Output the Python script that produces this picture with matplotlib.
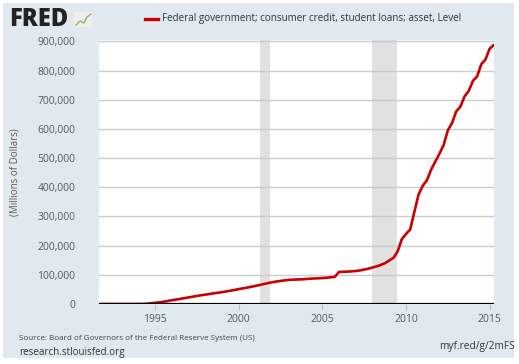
import matplotlib.pyplot as plt
from matplotlib.patches import Rectangle

plt.rcParams['font.family'] = ['Open Sans', 'DejaVu Sans']

# quarterly dates (year fractions) and values, millions of dollars
dates = [1991.75, 1992.0, 1992.25, 1992.5, 1992.75, 1993.0, 1993.25, 1993.5, 1993.75,
         1994.0, 1994.25, 1994.5, 1994.75, 1995.0, 1995.25, 1995.5, 1995.75,
         1996.0, 1996.25, 1996.5, 1996.75, 1997.0, 1997.25, 1997.5, 1997.75,
         1998.0, 1998.25, 1998.5, 1998.75, 1999.0, 1999.25, 1999.5, 1999.75,
         2000.0, 2000.25, 2000.5, 2000.75, 2001.0, 2001.25, 2001.5, 2001.75,
         2002.0, 2002.25, 2002.5, 2002.75, 2003.0, 2003.25, 2003.5, 2003.75,
         2004.0, 2004.25, 2004.5, 2004.75, 2005.0, 2005.25, 2005.5, 2005.75,
         2006.0, 2006.25, 2006.5, 2006.75, 2007.0, 2007.25, 2007.5, 2007.75,
         2008.0, 2008.25, 2008.5, 2008.75, 2009.0, 2009.25, 2009.5, 2009.75,
         2010.0, 2010.25, 2010.5, 2010.75, 2011.0, 2011.25, 2011.5, 2011.75,
         2012.0, 2012.25, 2012.5, 2012.75, 2013.0, 2013.25, 2013.5, 2013.75,
         2014.0, 2014.25, 2014.5, 2014.75, 2015.0, 2015.25]
values = [0, 0, 0, 0, 0, 0, 0, 0, 0,
          0, 0, 1000, 2500, 4000, 5500, 7500, 10000,
          13000, 15000, 17500, 20000, 22500, 25000, 27500, 30000,
          32000, 34000, 36500, 38500, 40500, 43000, 45500, 48000,
          51000, 53500, 56000, 59000, 62000, 65000, 68500, 71500,
          74500, 77000, 79000, 81000, 82500, 83500, 84000, 84500,
          85500, 86500, 87500, 88000, 89000, 90000, 91500, 93000,
          110000, 110500, 111000, 112000, 113000, 115000, 118000, 121000,
          125000, 129000, 134000, 140000, 149000, 158000, 180000, 222000,
          240000, 255000, 315000, 375000, 405000, 424000, 460000, 488000,
          515000, 545000, 595000, 620000, 660000, 676000, 712000, 730000,
          765000, 780000, 822000, 838000, 875000, 888000]

recessions = [(2001.25, 2001.9), (2007.95, 2009.45)]
xticks = [1995, 2000, 2005, 2010, 2015]
yticks = list(range(0, 900001, 100000))

fig = plt.figure(figsize=(5.19, 3.64), dpi=100)
fig.patch.set_facecolor('white')
W, H = 519, 364
fig.patches.append(Rectangle((3 / W, 1 - 358 / H), 511 / W, 355 / H,
                             transform=fig.transFigure, facecolor='#e1e9f0',
                             edgecolor='none', zorder=-10))

ax = fig.add_axes([99 / W, 1 - 304 / H, 395 / W, 264 / H])
ax.set_facecolor('white')
for a, b in recessions:
    ax.axvspan(a, b, color='#e1e1e1', lw=0, zorder=1)
ax.plot(dates, values, color='#cc0000', lw=1.9, zorder=4, solid_capstyle='round')

ax.set_xlim(1991.66, 2015.26)
ax.set_ylim(0, 905000)
ax.set_yticks(yticks)
ax.set_yticklabels(['{:,}'.format(v) for v in yticks])
ax.set_xticks(xticks)
ax.set_xticklabels([str(x) for x in xticks])
ax.grid(axis='y', color='#cccccc', lw=1, zorder=2)
ax.axhline(0, color='black', lw=1.6, zorder=5)
for s in ax.spines.values():
    s.set_visible(False)
ax.tick_params(axis='y', length=0, pad=17, labelsize=7.5, labelcolor='#595959')
ax.tick_params(axis='x', length=4, color='#c0c0c0', pad=3, labelsize=7.5,
               labelcolor='#595959')
ax.set_ylabel('(Millions of Dollars)', fontsize=7, color='#595959', labelpad=12)

# header: logo
fig.text(9 / W, 1 - 19 / H, 'FRED', fontsize=17, fontweight='heavy', color='#222222',
         va='center', ha='left')
fig.patches.append(Rectangle((74 / W, 1 - 27 / H), 18 / W, 15 / H,
                             transform=fig.transFigure, facecolor='#eef1ea',
                             edgecolor='none'))
fig.lines.append(plt.Line2D([76 / W, 80 / W, 84 / W, 87 / W, 91 / W],
                            [1 - 25 / H, 1 - 21 / H, 1 - 23 / H, 1 - 17 / H, 1 - 14 / H],
                            transform=fig.transFigure, color='#9ab07a', lw=1))
# legend
fig.lines.append(plt.Line2D([145 / W, 158 / W], [1 - 19 / H, 1 - 19 / H],
                            transform=fig.transFigure, color='#cc0000', lw=2.4))
fig.text(162 / W, 1 - 19 / H,
         'Federal government; consumer credit, student loans; asset, Level',
         fontsize=7.1, color='#333333', va='center', ha='left')

# footer
fig.text(19 / W, 1 - 339 / H, 'Source: Board of Governors of the Federal Reserve System (US)',
         fontsize=5.8, color='#444444', va='center', ha='left')
fig.text(19 / W, 1 - 352 / H, 'research.stlouisfed.org', fontsize=7.1, color='#333333',
         va='center', ha='left')
fig.text(515 / W, 1 - 347 / H, 'myf.red/g/2mFS', fontsize=7.3, color='#333333',
         va='center', ha='right')

fig.savefig('out.png', dpi=100, facecolor=fig.get_facecolor())
